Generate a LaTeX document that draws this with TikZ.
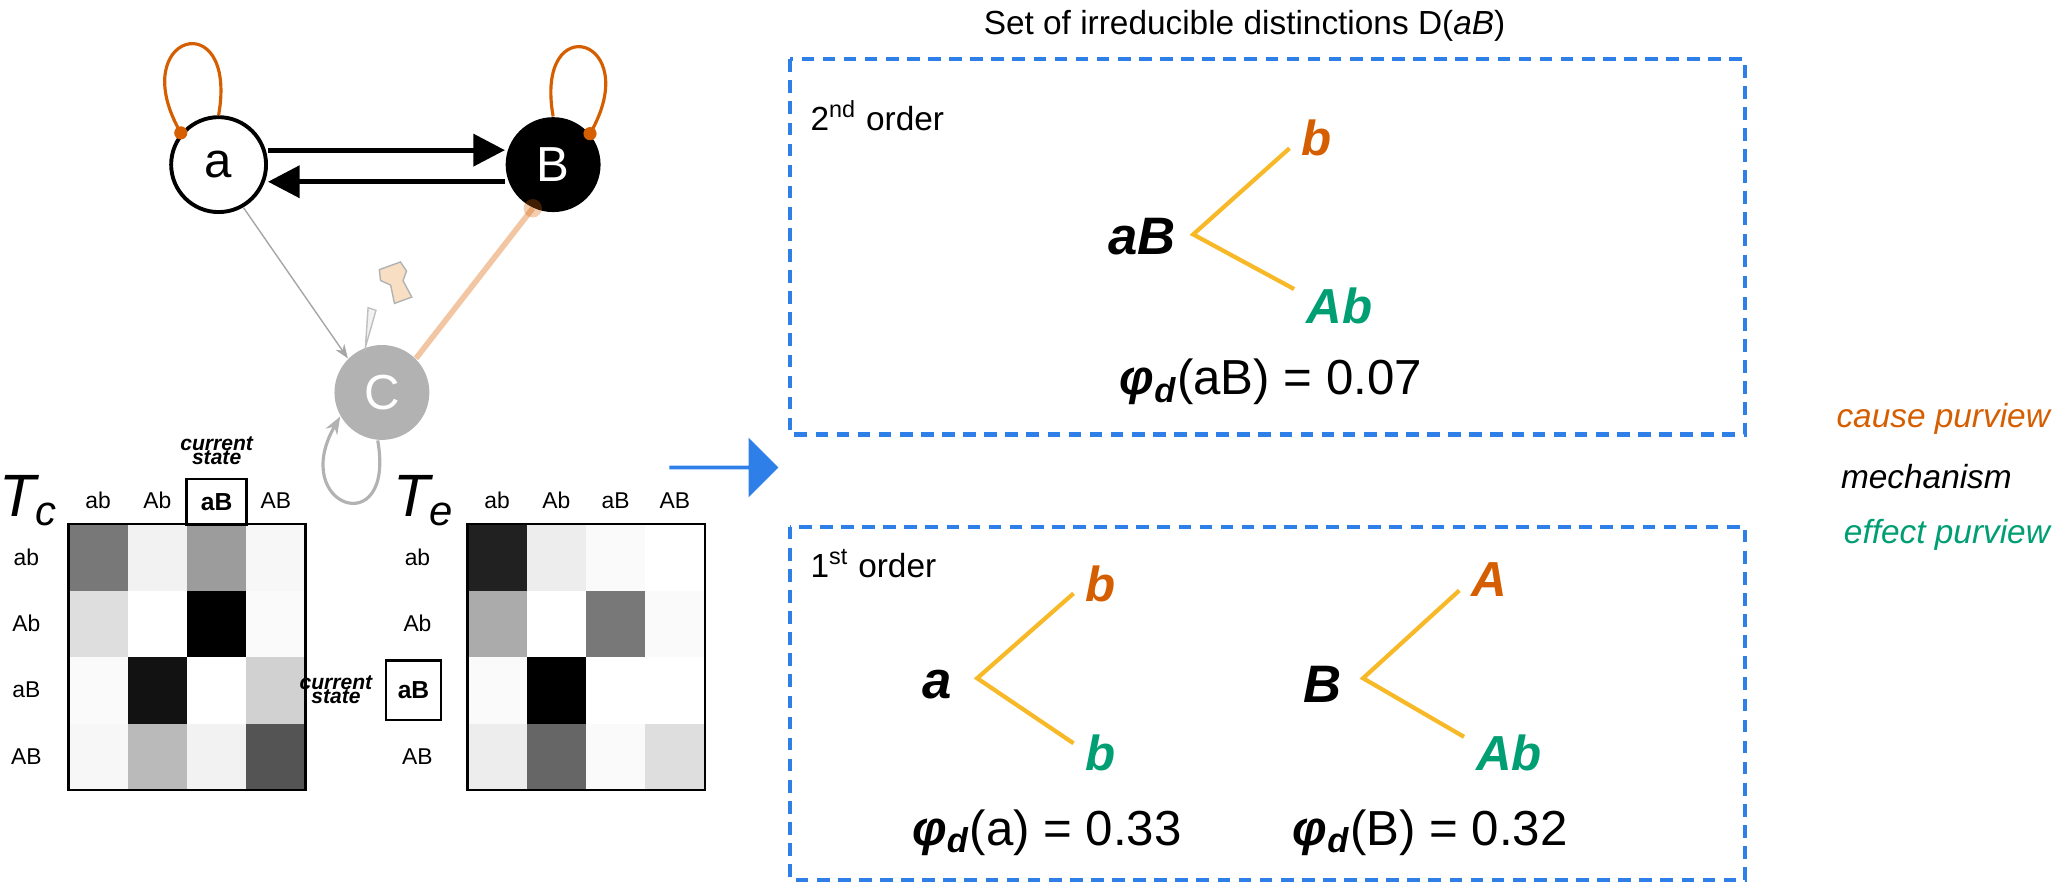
\documentclass[tikz,border=0pt]{standalone}
\usepackage{fontspec}
\setmainfont{Liberation Sans}
\usepackage{tikz}
\usetikzlibrary{arrows.meta,shapes.arrows}

\definecolor{causeC}{HTML}{D55E00}
\definecolor{effectC}{HTML}{009E73}
\definecolor{branchC}{HTML}{F7B928}
\definecolor{boxC}{HTML}{2F7FE8}
\definecolor{pinC}{HTML}{F8DFC4}
\definecolor{linkC}{HTML}{F2C6A2}

\tikzset{
  unit/.style={circle, minimum size=27pt, inner sep=0pt, font=\fontsize{14}{14}\selectfont},
  selfloop/.style={causeC, line width=0.9pt},
  biglink/.style={line width=1.4pt, -{Triangle[length=9pt,width=9pt]}},
  dbox/.style={boxC, line width=1.2pt, dash pattern=on 3.6pt off 2.4pt},
  branch/.style={branchC, line width=1.2pt},
  mech/.style={font=\fontsize{15}{15}\selectfont\bfseries\itshape},
  cpv/.style={font=\fontsize{14}{14}\selectfont\bfseries\itshape, text=causeC},
  epv/.style={font=\fontsize{14}{14}\selectfont\bfseries\itshape, text=effectC},
  phival/.style={font=\fontsize{14}{14}\selectfont},
  lbl/.style={font=\fontsize{6.5}{6.5}\selectfont},
}

\newcommand{\phid}[1]{{\bfseries\itshape φ}\textsubscript{\bfseries\itshape d}(#1)}

\begin{document}
\begin{tikzpicture}[x=0.01317cm, y=-0.01317cm]

	\useasboundingbox (0,0) rectangle (1568,677);

	% network
	\node[unit, draw, line width=1.1pt, fill=white] (a) at (166,125) {a};
	\node[unit, fill=black, text=white] (B) at (420,125) {B};
	\node[unit, fill=black!30, text=white] (C) at (290,298) {C};

	\draw[biglink] (a.east |- 0,114) -- (B.west |- 0,114);
	\draw[biglink] (B.west |- 0,138) -- (a.east |- 0,138);

	\draw[black!35, line width=0.4pt, -{Stealth[length=4pt]}] (a.-60) -- (C.135);
	\draw[linkC, line width=1.6pt] (C.45) -- (B.-115);
	\fill[causeC, opacity=0.3] (B.-115) circle (7);

	% self loops
	\draw[selfloop] (a.140) to[out=120, in=80, looseness=7] (a.90);
	\fill[causeC] (a.140) circle (5);
	\draw[selfloop] (B.40) to[out=60, in=100, looseness=7] (B.90);
	\fill[causeC] (B.40) circle (5);
	\draw[black!30, line width=0.9pt, -{Stealth[length=5pt]}]
	(C.-95) to[out=-80, in=-120, looseness=6] (C.-150);

	% pin
	\draw[black!25, fill=black!5] (C.110) -- ++(8,-28) -- ++(-6,-2) -- cycle;
	\draw[black!30, fill=pinC, rotate around={20:(305,222)}]
	(297,228) -- (299,214) -- (293,208) -- (295,200) -- (312,200) -- (314,208)
	-- (309,214) -- (311,228) -- cycle;

	% cause matrix
	\node[font=\fontsize{17}{17}\selectfont\itshape] (Tc) at (22,380) {T\textsubscript{c}};
	\foreach \g [count=\i from 0] in {53,5,39,3, 13,0,100,2, 2,93,0,18, 3,27,5,67}
		\fill[black!\g] ({52+45*mod(\i,4)},{398+50.5*int(\i/4)}) rectangle ++(45,50.5);
	\draw[line width=0.6pt] (52,398) rectangle (232,600);
	\foreach \s [count=\i from 0] in {ab,Ab,aB,AB} {
		\node[lbl] at ({74.5+45*\i},380) {\s};
		\node[lbl] at (20,{423+50.5*\i}) {\s};
	}
	\node[lbl, draw, fill=white, line width=0.8pt, minimum width=17pt, minimum height=13pt, font=\fontsize{7}{7}\selectfont\bfseries] (csc) at (164.5,381) {aB};
	\node[lbl, font=\fontsize{6}{6}\selectfont\bfseries\itshape, align=center, anchor=south] at (csc.north) {current\\[-2pt]state};

	% effect matrix
	\node[font=\fontsize{17}{17}\selectfont\itshape] (Te) at (322,380) {T\textsubscript{e}};
	\foreach \g [count=\i from 0] in {87,7,2,0, 33,0,53,2, 2,100,0,0, 7,60,2,13}
		\fill[black!\g] ({355+45*mod(\i,4)},{398+50.5*int(\i/4)}) rectangle ++(45,50.5);
	\draw[line width=0.6pt] (355,398) rectangle (535,600);
	\foreach \s [count=\i from 0] in {ab,Ab,aB,AB} {
		\node[lbl] at ({377.5+45*\i},380) {\s};
		\node[lbl] at (317,{423+50.5*\i}) {\s};
	}
	\node[lbl, draw, fill=white, line width=0.8pt, minimum width=13.5pt, minimum height=17pt, font=\fontsize{7}{7}\selectfont\bfseries] (cse) at (314,524) {aB};
	\node[lbl, font=\fontsize{6}{6}\selectfont\bfseries\itshape, align=center, anchor=east] at (cse.west) {current\\[-2pt]state};

	% big arrow
	\node[single arrow, fill=boxC, minimum height=31pt, minimum width=17pt, single arrow head extend=3pt, inner sep=0pt] (go) at (549,355) {};

	% distinctions
	\node[font=\fontsize{9.5}{9.5}\selectfont] (title) at (945,20) {Set of irreducible distinctions D(\textit{aB})};
	\draw[dbox] (600,45) rectangle (1325,330);
	\draw[dbox] (600,400) rectangle (1325,668);
	\node[anchor=west, font=\fontsize{9.5}{9.5}\selectfont] (o2) at (606,88) {2\textsuperscript{nd} order};
	\node[anchor=west, font=\fontsize{9.5}{9.5}\selectfont] (o1) at (606,428) {1\textsuperscript{st} order};

	% 2nd order
	\node[mech, anchor=east] (mAB) at (902,180) {aB};
	\coordinate (vAB) at (906,178);
	\node[cpv] (cAB) at (1000,105) {b};
	\node[epv] (eAB) at (1017,232) {Ab};
	\draw[branch] (cAB.200) -- (vAB) -- (eAB.160);
	\node[phival] (pAB) at (965,290) {\phid{aB} = 0.07};

	% 1st order
	\node[mech, anchor=east] (ma) at (732,520) {a};
	\coordinate (va) at (742,515);
	\node[cpv] (ca) at (836,443) {b};
	\node[epv] (ea) at (836,572) {b};
	\draw[branch] (ca.200) -- (va) -- (ea.160);
	\node[phival] (pa) at (795,632) {\phid{a} = 0.33};

	\node[mech, anchor=east] (mB) at (1028,520) {B};
	\coordinate (vB) at (1035,515);
	\node[cpv] (cB) at (1131,440) {A};
	\node[epv] (eB) at (1146,572) {Ab};
	\draw[branch] (cB.200) -- (vB) -- (eB.160);
	\node[phival] (pB) at (1086,632) {\phid{B} = 0.32};

	% legend
	\node[anchor=east, text=causeC, font=\fontsize{9.5}{9.5}\selectfont\itshape] (lc) at (1566,318) {cause purview};
	\node[anchor=east, font=\fontsize{9.5}{9.5}\selectfont\itshape] (lm) at (1537,362) {mechanism};
	\node[anchor=east, text=effectC, font=\fontsize{9.5}{9.5}\selectfont\itshape] (le) at (1566,406) {effect purview};

\end{tikzpicture}
\end{document}
